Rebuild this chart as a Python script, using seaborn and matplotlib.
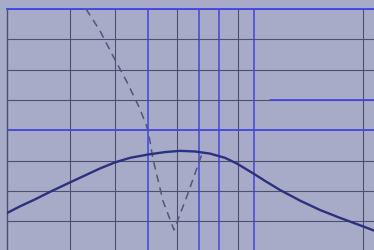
import matplotlib
matplotlib.use("Agg")
import matplotlib.pyplot as plt
import seaborn as sns
import pandas as pd

# ---- data (x in chart units, y in grid units) ----
curve_x = [7, 20, 35, 52, 70, 85, 100, 115, 130, 148, 165, 180, 195, 210, 225, 237,
           246, 254, 265, 280, 300, 320, 340, 363, 374]
curve_y = [1.27, 1.49, 1.72, 2.00, 2.28, 2.51, 2.74, 2.94, 3.09, 3.20, 3.28, 3.32,
           3.30, 3.23, 3.09, 2.90, 2.72, 2.56, 2.33, 2.03, 1.68, 1.37, 1.11, 0.83, 0.69]

dash_x = [86, 100, 113, 127, 140, 148, 153, 163, 174, 187, 202]
dash_y = [8.00, 7.28, 6.45, 5.59, 4.70, 4.01, 3.05, 1.67, 0.71, 1.83, 3.22]

vgrid_dark = [70, 115, 177, 238, 363]
vgrid_blue = [148, 199, 219, 254]
hgrid_dark = [1, 2, 3, 5, 6, 7]
hgrid_blue = [4, 8]

BG = "#a7abc7"
BLUE = "#4343e0"
DARK = "#4c5070"

sns.set_theme(style="white")
fig = plt.figure(figsize=(3.74, 2.51), dpi=100)
fig.patch.set_facecolor(BG)
W, H = 374, 251
ax = fig.add_axes([7 / W, 0, 1 - 7 / W, (H - 10) / H])
ax.set_facecolor(BG)
ax.set_xlim(7, 374)
ax.set_ylim(0.05, 8.0)

for v in vgrid_dark:
    ax.axvline(v, color=DARK, lw=0.8, zorder=1)
for v in vgrid_blue:
    ax.axvline(v, color=BLUE, lw=1.1, zorder=1)
for h in hgrid_dark:
    ax.axhline(h, color=DARK, lw=0.8, zorder=1)
for h in hgrid_blue:
    ax.axhline(h, color=BLUE, lw=1.3, zorder=2)
# blue overlay on part of the y=5 line
ax.plot([270, 374], [5, 5], color=BLUE, lw=1.2, zorder=2)

df_c = pd.DataFrame({"x": curve_x, "y": curve_y})
df_d = pd.DataFrame({"x": dash_x, "y": dash_y})
sns.lineplot(data=df_c, x="x", y="y", ax=ax, color="#2c3080", lw=1.7, sort=False, zorder=4)
sns.lineplot(data=df_d, x="x", y="y", ax=ax, color="#52557c", lw=1.1, sort=False,
             linestyle=(0, (5, 3.5)), zorder=3)

ax.set_xticks([])
ax.set_yticks([])
ax.set_xlabel("")
ax.set_ylabel("")
for s in ["right", "bottom"]:
    ax.spines[s].set_visible(False)
ax.spines["left"].set_color(DARK)
ax.spines["left"].set_linewidth(1.0)
ax.spines["top"].set_color(BLUE)
ax.spines["top"].set_linewidth(1.3)

fig.savefig("out.png", dpi=100, facecolor=BG)
